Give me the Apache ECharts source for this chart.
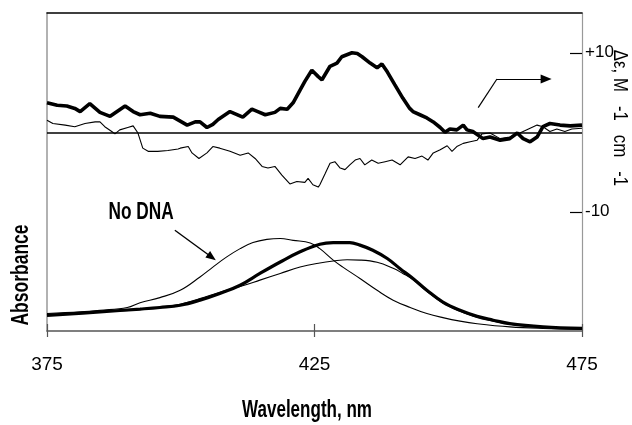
<!DOCTYPE html>
<html><head><meta charset="utf-8">
<script src="https://cdn.jsdelivr.net/npm/echarts@6/dist/echarts.min.js"></script>
<style>html,body{margin:0;padding:0;background:#fff}#c{width:632px;height:425px}</style>
</head><body><div id="c"></div>
<script>
// ---- data ----
const xTicks = [375, 425, 475];
const cdTickValues = [10, -10];
const xLabel = 'Wavelength, nm';
const yLabel = 'Absorbance';
const cdLabel = 'Δε, M   -1   cm   -1';
const noteLabel = 'No DNA';

// CD (Δε) thick trace [wavelength, Δε]
const cdThick = [[375.0,3.7],[376.9,3.4],[378.7,3.3],[380.2,3.0],[381.2,2.6],[383.0,3.6],[384.9,2.5],[386.8,2.0],[389.6,3.3],[391.1,2.6],[392.4,2.2],[394.3,2.4],[396.1,2.0],[398.6,1.9],[399.9,1.4],[401.2,0.9],[402.7,1.3],[403.6,1.3],[404.9,0.6],[406.0,1.0],[407.0,1.6],[409.2,2.6],[411.6,1.9],[413.3,2.9],[414.4,2.6],[415.8,2.2],[417.6,2.5],[418.6,3.0],[419.9,2.9],[421.0,3.7],[422.3,5.3],[423.2,6.4],[424.5,7.8],[425.7,7.0],[426.4,6.6],[427.9,8.3],[429.2,8.7],[430.1,9.5],[432.0,10.0],[433.0,9.9],[433.9,9.5],[435.4,8.7],[436.7,8.1],[437.6,8.6],[438.6,7.6],[440.0,6.0],[441.5,4.3],[442.8,3.0],[443.4,2.6],[444.7,2.2],[446.0,1.8],[447.2,1.3],[448.5,0.6],[449.4,0.0],[450.3,0.4],[451.6,0.3],[452.8,0.9],[453.5,0.3],[454.6,0.1],[456.5,-0.8],[457.8,-0.6],[459.7,-1.0],[461.5,-0.8],[462.9,-0.1],[464.0,-0.8],[465.3,-1.2],[466.6,-0.6],[467.7,0.7],[469.0,1.1],[470.9,0.9],[472.8,0.8],[475.0,0.9]];
// CD (Δε) thin trace
const cdThin = [[375.0,1.5],[376.1,1.1],[378.4,0.9],[380.2,0.7],[382.1,1.1],[384.0,1.3],[384.9,1.3],[385.8,0.7],[387.1,0.1],[387.7,-0.2],[388.6,0.3],[390.1,0.6],[391.1,0.8],[392.0,-0.1],[392.9,-2.0],[393.9,-2.4],[395.7,-2.4],[397.6,-2.3],[399.5,-2.1],[399.9,-2.0],[401.4,-1.8],[402.1,-2.6],[403.4,-3.3],[404.9,-2.6],[406.0,-1.8],[407.3,-2.0],[409.2,-2.4],[411.1,-2.9],[412.6,-2.6],[413.9,-3.3],[415.2,-4.3],[416.3,-4.5],[417.6,-4.3],[418.9,-5.4],[420.4,-6.5],[421.7,-6.2],[423.2,-6.3],[423.8,-5.8],[424.7,-6.6],[425.7,-6.9],[426.0,-6.6],[427.0,-5.2],[427.9,-3.9],[428.8,-3.7],[429.8,-4.5],[430.7,-4.7],[431.6,-4.1],[432.6,-3.5],[433.5,-3.3],[434.4,-4.1],[435.7,-3.5],[436.9,-3.9],[438.2,-3.7],[439.5,-3.5],[441.0,-4.1],[442.5,-3.1],[443.8,-3.3],[445.1,-3.0],[446.2,-3.5],[447.2,-2.6],[448.5,-2.2],[449.8,-1.7],[450.7,-2.4],[451.6,-1.8],[452.8,-1.4],[454.1,-1.2],[455.4,-1.0],[456.3,-0.2],[457.8,-0.1],[459.7,-0.8],[461.5,-0.6],[463.4,-0.1],[465.3,0.5],[466.6,0.9],[467.7,0.7],[469.0,0.1],[470.3,0.4],[471.8,0.1],[473.1,0.4],[475.0,0.5]];

// Absorbance traces [wavelength, relative absorbance]
const absNoDNA = [[375.0,0.055],[381.2,0.060],[384.9,0.065],[390.0,0.074],[392.4,0.089],[396.1,0.105],[399.9,0.128],[403.6,0.170],[406.0,0.201],[408.6,0.233],[411.1,0.259],[413.5,0.278],[416.1,0.288],[418.6,0.291],[421.0,0.285],[424.2,0.277],[426.0,0.259],[428.5,0.223],[430.3,0.201],[433.5,0.165],[436.7,0.128],[439.7,0.097],[442.9,0.074],[446.0,0.055],[449.0,0.042],[452.2,0.031],[455.4,0.023],[461.5,0.013],[467.7,0.008],[475.0,0.005]];
const absThick = [[375.0,0.049],[384.9,0.060],[392.4,0.069],[396.1,0.074],[399.9,0.081],[403.6,0.097],[407.3,0.118],[411.1,0.144],[414.8,0.181],[418.6,0.217],[422.3,0.249],[426.0,0.273],[428.5,0.278],[431.6,0.278],[433.5,0.270],[435.9,0.254],[438.6,0.228],[441.0,0.196],[443.4,0.165],[446.0,0.128],[449.0,0.091],[452.2,0.065],[455.4,0.046],[458.4,0.034],[461.5,0.023],[467.7,0.013],[475.0,0.008]];
const absThin = [[375.0,0.049],[384.9,0.060],[392.4,0.068],[399.9,0.084],[403.6,0.102],[407.3,0.122],[411.1,0.140],[414.8,0.160],[418.6,0.181],[422.3,0.201],[426.0,0.214],[428.5,0.220],[431.1,0.224],[433.5,0.223],[436.7,0.216],[439.7,0.197],[441.5,0.181],[443.4,0.162],[446.0,0.125],[449.0,0.088],[452.2,0.062],[455.4,0.043],[461.5,0.021],[467.7,0.011],[475.0,0.007]];

// annotation anchors (data coordinates)
const noDnaArrow = [[398.9,0.317],[405.8,0.232]];
const noDnaText = [392.6,0.373];
const cdArrow = [[455.6,3.1],[459.1,6.7],[468.3,6.7]];

const FONT = '"Liberation Sans Narrow","Arial Narrow","Liberation Sans",Arial,sans-serif';

const chart = echarts.init(document.getElementById('c'), null, {renderer:'canvas'});
const baseX = {type:'value', min:375, max:475, interval:50, splitLine:{show:false}};
chart.setOption({
  animation:false,
  backgroundColor:'#fff',
  grid:{left:47, top:13, width:535, height:318, containLabel:false, outerBoundsMode:'none'},
  xAxis:[
    Object.assign({}, baseX, {position:'bottom',
      axisLine:{show:true, onZero:false, lineStyle:{color:'#555', width:1.5}},
      axisTick:{show:true, inside:false, length:6, lineStyle:{color:'#555', width:1.2}},
      axisLabel:{show:true, margin:24, fontFamily:FONT, fontSize:19, color:'#000',
        customValues:xTicks}}),
    Object.assign({}, baseX, {position:'bottom',
      axisLine:{show:false, onZero:false},
      axisTick:{show:true, inside:true, length:7, lineStyle:{color:'#555', width:1.2}},
      axisLabel:{show:false}}),
    Object.assign({}, baseX, {position:'top',
      axisLine:{show:true, onZero:false, lineStyle:{color:'#000', width:1.5}},
      axisTick:{show:false}, axisLabel:{show:false}})
  ],
  yAxis:[
    {type:'value', min:0, max:1, position:'left', splitLine:{show:false},
      axisLine:{show:true, onZero:false, lineStyle:{color:'#999', width:1.5}},
      axisTick:{show:false}, axisLabel:{show:false}},
    {type:'value', min:-25, max:15, position:'right', splitLine:{show:false},
      axisLine:{show:true, onZero:false, lineStyle:{color:'#999', width:1.2}},
      axisTick:{show:true, inside:true, length:12, customValues:cdTickValues, lineStyle:{color:'#000', width:1.2}},
      axisLabel:{show:true, customValues:cdTickValues, margin:3, fontFamily:FONT, fontSize:17, color:'#000',
        formatter:v => (v > 0 ? '+' + v : String(v))}}
  ],
  series:[
    {type:'line', name:'CD thin', xAxisIndex:0, yAxisIndex:1, data:cdThin, showSymbol:false, symbol:'none',
      lineStyle:{color:'#000', width:1.1}, z:3,
      markLine:{silent:true, symbol:['none','none'], label:{show:false},
        lineStyle:{color:'#000', width:1.6, type:'solid'}, data:[{yAxis:0}]}},
    {type:'line', name:'CD thick', xAxisIndex:0, yAxisIndex:1, data:cdThick, showSymbol:false, symbol:'none',
      lineStyle:{color:'#000', width:3.6}, z:4,
      markLine:{silent:true, symbol:['none','none'], label:{show:false},
        lineStyle:{color:'#000', width:1.2, type:'solid'},
        data:[
          [{coord:cdArrow[0]},{coord:cdArrow[1]}],
          [{coord:cdArrow[1]},{coord:cdArrow[2], symbol:'triangle', symbolSize:[9,11]}]
        ]}},
    {type:'line', name:'No DNA', xAxisIndex:0, yAxisIndex:0, data:absNoDNA, smooth:0.4, showSymbol:false, symbol:'none',
      lineStyle:{color:'#000', width:1.1}, z:3,
      markLine:{silent:true, symbol:['none','none'], label:{show:false},
        lineStyle:{color:'#000', width:1.4, type:'solid'},
        data:[[{coord:noDnaArrow[0]},{coord:noDnaArrow[1], symbol:'triangle', symbolSize:[8,10]}]]}},
    {type:'line', name:'Abs thick', xAxisIndex:0, yAxisIndex:0, data:absThick, smooth:0.4, showSymbol:false, symbol:'none',
      lineStyle:{color:'#000', width:3.2}, z:4},
    {type:'line', name:'Abs thin', xAxisIndex:0, yAxisIndex:0, data:absThin, smooth:0.4, showSymbol:false, symbol:'none',
      lineStyle:{color:'#000', width:1.1}, z:3}
  ]
});

// text annotations, narrowed horizontally to mimic a condensed face
const notePx = chart.convertToPixel({xAxisIndex:0, yAxisIndex:0}, noDnaText);
chart.setOption({
  graphic:[
    {type:'text', x:307, y:411, scaleX:0.74, silent:true,
      style:{text:xLabel, align:'center', verticalAlign:'middle', fontFamily:FONT, fontWeight:'bold', fontSize:23, fill:'#000'}},
    {type:'text', x:22, y:275, rotation:Math.PI/2, scaleX:0.76, silent:true,
      style:{text:yLabel, align:'center', verticalAlign:'middle', fontFamily:FONT, fontWeight:'bold', fontSize:23, fill:'#000'}},
    {type:'text', x:notePx[0], y:notePx[1], scaleX:0.75, silent:true,
      style:{text:noteLabel, align:'center', verticalAlign:'middle', fontFamily:FONT, fontWeight:'bold', fontSize:23, fill:'#000'}},
    {type:'text', x:620, y:118, rotation:-Math.PI/2, scaleX:0.8, silent:true,
      style:{text:cdLabel, align:'center', verticalAlign:'middle', fontFamily:FONT, fontSize:21, fill:'#000'}}
  ]
});
</script>
</body></html>
